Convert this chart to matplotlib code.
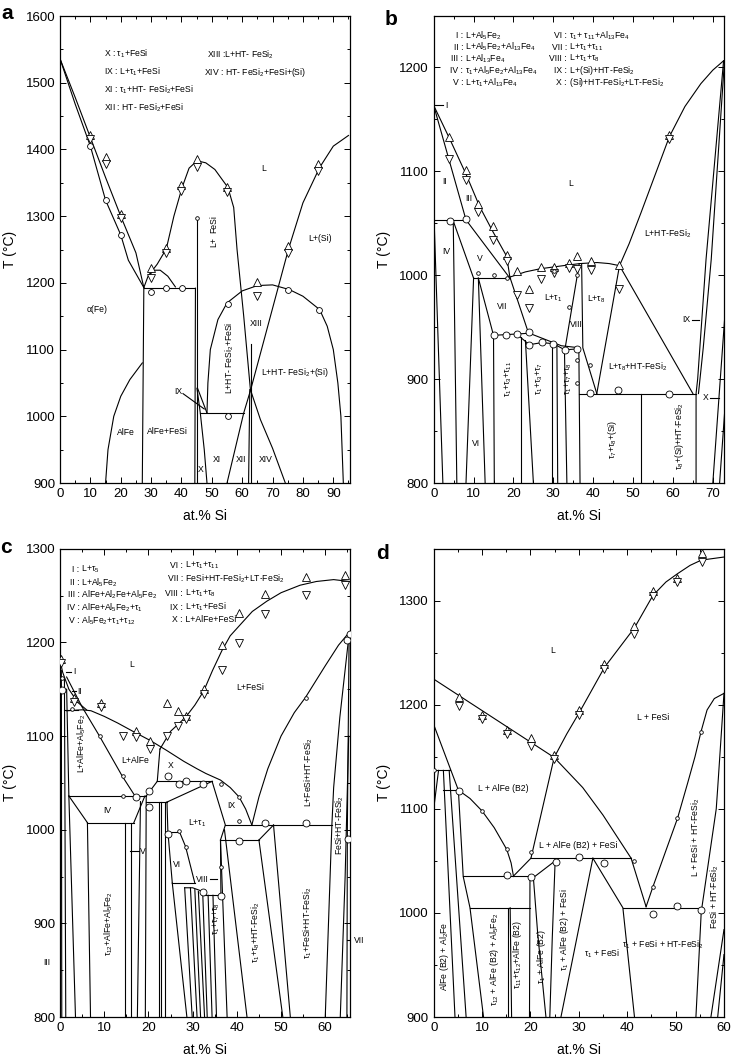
import matplotlib
matplotlib.use('Agg')
import matplotlib.pyplot as plt
from matplotlib.ticker import MultipleLocator

plt.rcParams['font.family'] = ['Liberation Sans', 'DejaVu Sans']
plt.rcParams['mathtext.fontset'] = 'custom'
plt.rcParams['mathtext.rm'] = 'Liberation Sans'
plt.rcParams['mathtext.it'] = 'Liberation Sans:italic'
plt.rcParams['mathtext.bf'] = 'Liberation Sans:bold'

# ---------------- panel a data ----------------
a_liq_fe = [(0, 1536), (5, 1478), (10, 1418), (15, 1358), (20, 1300), (25, 1245), (27.6, 1193)]
a_sol_fe = [(0, 1536), (5, 1468), (10, 1405), (15, 1324), (20, 1272), (22.5, 1234), (27.6, 1193)]
a_small_dome = [(27.6, 1193), (29, 1210), (31, 1219), (33, 1219), (35.5, 1210), (38, 1194)]
a_fesi_liq = [(29.3, 1212), (32, 1228), (35, 1251), (37.5, 1300), (40.2, 1343), (42.5, 1372),
              (45.1, 1383), (48, 1380), (51, 1370), (55.3, 1343), (57.2, 1313), (58.3, 1250),
              (60.5, 1150), (62.7, 1040), (66, 995), (70, 952), (74.2, 900)]
a_h1192 = [(27.6, 1192), (44.6, 1192)]
a_v27 = [(27.1, 900), (27.6, 1192)]
a_alfe = [(15, 900), (15.8, 950), (17.7, 1000), (20, 1030), (23, 1055), (27.1, 1080)]
a_v44 = [(44.4, 900), (44.6, 1192)]
a_v45 = [(45.1, 900), (45.1, 1298)]
a_x1 = [(45.1, 1042), (46.2, 1005), (47.5, 950), (48.4, 900)]
a_x2 = [(45.3, 1042), (48.4, 1005)]
a_h1005 = [(46.2, 1005), (60.5, 1005)]
a_big_dome = [(48.4, 1005), (48.7, 1050), (49.5, 1100), (52, 1145), (55, 1170), (60, 1188),
              (65, 1196), (70, 1197), (75.5, 1190), (80, 1180), (85.5, 1160), (88, 1135),
              (90, 1100), (91.5, 1050), (92.5, 1000), (93.3, 900)]
a_si_liq = [(55, 900), (60.5, 1005), (62.8, 1040), (75.2, 1250), (80, 1320), (85.5, 1373),
            (90, 1405), (95, 1421)]
a_v62a = [(62.1, 900), (62.5, 1040)]
a_v62b = [(62.9, 900), (62.9, 1108)]
a_ix_ptr = [(40.5, 1034), (47.5, 1011)]
a_lines = [a_liq_fe, a_sol_fe, a_small_dome, a_fesi_liq, a_h1192, a_v27, a_alfe, a_v44, a_v45,
           a_x1, a_x2, a_h1005, a_big_dome, a_si_liq, a_v62a, a_v62b, a_ix_ptr]

a_up = [(10, 1421), (15, 1388), (20, 1303), (30, 1222), (35, 1252), (40, 1346), (45, 1386),
        (55, 1344), (65, 1201), (75, 1256), (85, 1378)]
a_down = [(10, 1416), (15, 1378), (20, 1298), (30, 1208), (35, 1245), (40, 1337), (45, 1374),
          (55, 1336), (65, 1180), (75, 1245), (85, 1367)]
a_circ = [(10, 1405), (15, 1324), (20.2, 1272), (30.1, 1187), (35, 1192), (40.2, 1192),
          (55.3, 1169), (75.2, 1190), (85.3, 1160), (55.3, 1001)]
a_circ_small = [(45.1, 1298)]

a_texts = [
    (14.5, 1543, r'X : τ$_1$+FeSi', 0, 'left'),
    (14.5, 1516, r'IX : L+τ$_1$+FeSi', 0, 'left'),
    (14.5, 1489, r'XI : τ$_1$+HT- FeSi$_2$+FeSi', 0, 'left'),
    (14.5, 1462, r'XII : HT- FeSi$_2$+FeSi', 0, 'left'),
    (48.4, 1542, r'XIII :L+HT- FeSi$_2$', 0, 'left'),
    (47.3, 1516, r'XIV : HT- FeSi$_2$+FeSi+(Si)', 0, 'left'),
    (67, 1371, 'L', 0, 'center'),
    (85.6, 1267, 'L+(Si)', 0, 'center'),
    (50.6, 1288, 'FeSi', 90, 'center'),
    (50.6, 1261, 'L+', 90, 'center'),
    (12.3, 1160, 'α(Fe)', 0, 'center'),
    (21.6, 975, 'AlFe', 0, 'center'),
    (35.3, 977, 'AlFe+FeSi', 0, 'center'),
    (64.6, 1139, 'XIII', 0, 'center'),
    (56, 1087, r'L+HT- FeSi$_2$+FeSi', 90, 'center'),
    (77.5, 1065, r'L+HT- FeSi$_2$+(Si)', 0, 'center'),
    (39.1, 1037, 'IX', 0, 'center'),
    (51.7, 935, 'XI', 0, 'center'),
    (59.6, 935, 'XII', 0, 'center'),
    (67.6, 935, 'XIV', 0, 'center'),
    (46.4, 920, 'X', 0, 'center'),
]

# ---------------- panel b data ----------------
b_liq = [(0, 1163), (4, 1131), (8.1, 1097), (11.5, 1066), (14.8, 1042), (18.3, 1018), (19.1, 998)]
b_II = [(0, 1163), (8.1, 1053)]
b_h1053 = [(0, 1053), (8.1, 1053)]
b_V_right = [(8.1, 1053), (19.1, 997)]
b_V_left = [(4.9, 1052), (10, 997)]
b_h997 = [(10, 997), (19.1, 997)]
b_IV_left = [(0.1, 1053), (2.3, 800)]
b_IV_right = [(4.9, 1052), (5.8, 800)]
b_VI_a = [(10, 997), (8.1, 800)]
b_VI_b = [(11.2, 997), (12.9, 800)]
b_VII_left = [(11.2, 997), (15, 942)]
b_v15 = [(15, 942), (15.2, 800)]
b_VII_right = [(19.1, 998), (23.7, 945)]
b_h942 = [(15, 942), (24, 944), (28, 938), (32, 932), (36.6, 930)]
b_t1_liq = [(19.1, 998), (23, 1003), (26.7, 1006), (32.5, 1009), (36.7, 1011), (41, 1012),
            (44, 1011), (46.6, 1009)]
b_bigliq = [(46.6, 1009), (49, 1030), (52, 1060), (55.5, 1096), (59.1, 1133), (63, 1162),
            (67, 1184), (70, 1197), (72.7, 1206)]
b_step = [(21.8, 940), (24, 933), (27.1, 935), (30, 934), (32.9, 928), (36, 929)]
b_v21 = [(21.8, 940), (21.8, 800)]
b_v23 = [(23, 937), (25, 800)]
b_v29 = [(29.6, 934), (29.6, 800)]
b_v31 = [(30.9, 932), (31.1, 800)]
b_VIII_left = [(36.5, 1011), (32.8, 926), (33.4, 800)]
b_v36 = [(36.4, 929), (36.5, 886), (36.7, 800)]
b_Lt8_left = [(37.1, 1011), (37.4, 930), (40.9, 886)]
b_Lt8_right = [(46.6, 1009), (40.9, 886)]
b_big_tri = [(46.6, 1009), (65, 886)]
b_h886 = [(36.5, 886), (65.8, 886)]
b_v52 = [(52, 886), (52, 800)]
b_si1 = [(72.7, 1206), (68.3, 1015), (66.2, 900), (65.8, 886), (65.8, 800)]
b_si2 = [(72.9, 1205), (69.6, 1015), (67.6, 930), (66.4, 886)]
b_right3 = [(70, 800), (73, 960)]
b_right4 = [(71.7, 800), (73, 870)]
b_I_ptr = [(0.3, 1163), (2.3, 1163)]
b_IX_ptr = [(64.8, 957), (66.6, 957)]
b_X_ptr = [(69.4, 882), (71.6, 882)]
b_lines = [b_liq, b_II, b_h1053, b_V_right, b_V_left, b_h997, b_IV_left, b_IV_right, b_VI_a,
           b_VI_b, b_VII_left, b_v15, b_VII_right, b_h942, b_t1_liq, b_bigliq, b_step, b_v21,
           b_v23, b_v29, b_v31, b_VIII_left, b_v36, b_Lt8_left, b_Lt8_right, b_big_tri, b_h886,
           b_v52, b_si1, b_si2, b_right3, b_right4, b_I_ptr, b_IX_ptr, b_X_ptr]

b_up = [(3.9, 1133), (8.1, 1101), (11, 1068), (14.8, 1047), (18.3, 1019), (21, 1004), (24, 987),
        (26.8, 1008), (30.2, 1008), (34, 1012), (36, 1018), (39.4, 1013), (46.4, 1010),
        (59.1, 1135)]
b_down = [(3.9, 1112), (8.1, 1091), (11, 1061), (14.8, 1034), (18.3, 1013), (21, 981), (24, 968),
          (26.8, 996), (30.2, 1002), (34, 1007), (36, 1006), (39.4, 1005), (46.4, 987),
          (59.1, 1131)]
b_circ = [(4.1, 1052), (8.1, 1054), (15, 942.5), (18.1, 942.5), (21, 943.5), (24, 945),
          (24, 933), (27.1, 935.5), (30, 934), (32.9, 928), (35.9, 929), (39.2, 886.6),
          (46.2, 889), (59, 886)]
b_circ_small = [(11, 1002), (15, 1000), (18.3, 997), (34, 969.6), (35.9, 1000), (35.9, 918.5),
                (35.9, 896), (39.2, 913.7), (30.2, 1004)]

b_legend = [
    (7.4, 1230.4, 'I', r'L+Al$_5$Fe$_2$'),
    (7.4, 1219.2, 'II', r'L+Al$_5$Fe$_2$+Al$_{13}$Fe$_4$'),
    (7.4, 1208.0, 'III', r'L+Al$_{13}$Fe$_4$'),
    (7.4, 1196.2, 'IV', r'τ$_1$+Al$_5$Fe$_2$+Al$_{13}$Fe$_4$'),
    (7.4, 1184.7, 'V', r'L+τ$_1$+Al$_{13}$Fe$_4$'),
    (33.4, 1230.4, 'VI', r'τ$_1$+ τ$_{11}$+Al$_{13}$Fe$_4$'),
    (33.4, 1219.2, 'VII', r'L+τ$_1$+τ$_{11}$'),
    (33.4, 1208.0, 'VIII', r'L+τ$_1$+τ$_8$'),
    (33.4, 1196.2, 'IX', r'L+(Si)+HT-FeSi$_2$'),
    (33.4, 1184.7, 'X', r'(Si)+HT-FeSi$_2$+LT-FeSi$_2$'),
]
b_texts = [
    (34.4, 1088, 'L', 0, 'center'),
    (2.7, 1090, 'II', 0, 'center'),
    (8.9, 1074, 'III', 0, 'center'),
    (3.1, 1023, 'IV', 0, 'center'),
    (11.5, 1016, 'V', 0, 'center'),
    (58.7, 1040, r'L+HT-FeSi$_2$', 0, 'center'),
    (17.3, 970, 'VII', 0, 'center'),
    (29.9, 978, r'L+τ$_1$', 0, 'center'),
    (40.7, 977, r'L+τ$_8$', 0, 'center'),
    (35.7, 952, 'VIII', 0, 'center'),
    (51.2, 912, r'L+τ$_8$+HT-FeSi$_2$', 0, 'center'),
    (63.3, 957, 'IX', 0, 'center'),
    (68.3, 882, 'X', 0, 'center'),
    (10.6, 838, 'VI', 0, 'center'),
    (3.2, 1163, 'I', 0, 'center'),
    (18.6, 900, r'τ$_1$+τ$_3$+τ$_{11}$', 90, 'center'),
    (26.5, 900, r'τ$_1$+τ$_3$+τ$_7$', 90, 'center'),
    (33.8, 900, r'τ$_1$+τ$_7$+τ$_8$', 90, 'center'),
    (44.9, 842, r'τ$_7$+τ$_8$+(Si)', 90, 'center'),
    (61.6, 845, r'τ$_8$+(Si)+HT-FeSi$_2$', 90, 'center'),
]

# ---------------- panel c data ----------------
c_liq_fesi = [(22.6, 1086), (25, 1105), (28.4, 1120), (30.5, 1133), (32.5, 1148), (34.5, 1170),
              (36.6, 1191), (38.5, 1207), (40.8, 1219), (43.5, 1233), (46.8, 1244), (50, 1253),
              (54.3, 1261), (58, 1265), (61.9, 1267), (65.5, 1265)]
c_liq_alfe = [(1.5, 1127), (5, 1128), (7, 1127), (10, 1121), (13, 1114), (16.5, 1105),
              (20.5, 1095), (24, 1085), (28, 1073), (31, 1065), (33, 1060), (36.3, 1053),
              (38.5, 1045), (40.5, 1035), (42, 1022), (43.4, 1005)]
c_dome_right = [(43.4, 1005), (45, 1035), (47, 1065), (50, 1100), (53, 1125), (55.5, 1141),
                (60, 1175), (63, 1197), (65.3, 1210)]
c_right_steep = [(65.4, 1209), (63.3, 1120), (61.9, 1045), (61.5, 1005), (60, 800)]
c_right2 = [(65.4, 1209), (65, 1000), (64.9, 800)]
c_right3 = [(63.4, 800), (64.5, 950), (65.3, 1100)]
c_left_liq = [(0, 1181), (0.6, 1168), (2, 1150), (4, 1136), (6, 1128)]
c_alfe_line = [(1.5, 1163), (5, 1131), (8.8, 1101), (14.1, 1057), (17.1, 1035)]
c_h1128 = [(0.8, 1128), (4, 1128)]
c_v0 = [(0.3, 1170), (0.4, 800)]
c_v1 = [(1, 1162), (1.3, 800)]
c_v2 = [(1.5, 1150), (2, 1036)]
c_v3 = [(2, 1036), (3.5, 800)]
c_h1036 = [(2, 1036), (19.5, 1036)]
c_IV_left = [(2, 1036), (6.2, 1007.5)]
c_h1007 = [(6.2, 1007.5), (16.7, 1007.5)]
c_IV_right = [(16.7, 1007.5), (19.2, 1036)]
c_v6 = [(6.2, 1007.5), (6.9, 800)]
c_v14 = [(14.6, 1007.5), (14.6, 800)]
c_v16 = [(16.1, 1007.5), (16.1, 800)]
c_v17 = [(18.2, 1030), (17.5, 800)]
c_v19 = [(19.5, 1036), (19.3, 800)]
c_toX = [(19.5, 1036), (22, 1051.6)]
c_h1051 = [(22, 1051.6), (34.4, 1051.6)]
c_h1029 = [(19.5, 1029.5), (24.2, 1029.5)]
c_to1051b = [(24.2, 1029.5), (34.4, 1051.6)]
c_X_left = [(22.6, 1086), (22, 1051.6)]
c_v22 = [(22.3, 1029.5), (22.3, 800)]
c_v23 = [(22.9, 1029.5), (22.9, 800)]
c_v24 = [(23.8, 1029.5), (23.8, 800)]
c_t1_left = [(24.2, 1029.5), (24.4, 998)]
c_h998 = [(24.2, 998), (27, 998)]
c_VI_left = [(24.4, 998), (25.4, 943)]
c_t1_right = [(27, 998), (28.4, 982), (30.5, 943)]
c_h943 = [(25.4, 943), (30.5, 943)]
c_VIII = [(28.2, 938), (30, 938), (32.3, 934)]
c_h930 = [(32.3, 930), (36.4, 930)]
c_Lt1_right = [(34.4, 1051.6), (37.4, 1005), (36.3, 989), (36.4, 930)]
c_v37 = [(36.3, 989), (37.8, 800)]
c_v42 = [(37.2, 1000), (42.3, 800)]
c_v50 = [(45, 989), (50.4, 800)]
c_v52 = [(48.3, 1005), (52.1, 800)]
c_h989 = [(36.3, 989), (45, 989)]
c_h1005 = [(37.4, 1005), (61.5, 1005)]
c_diag = [(45, 989), (48.3, 1005)]
c_f1 = [(25.4, 943), (28.7, 800)]
c_f2 = [(28.2, 938), (29.9, 800)]
c_f3 = [(29.5, 938), (31, 800)]
c_f4 = [(30.5, 936), (31.8, 800)]
c_f5 = [(31.3, 934), (32.7, 800)]
c_f6 = [(32.3, 930), (33.3, 800)]
c_f7 = [(33.5, 930), (34.4, 800)]
c_f8 = [(34.6, 930), (35.4, 800)]
c_V_ptr = [(15.8, 977), (17.8, 977)]
c_VIII_ptr = [(34, 947), (35.5, 947)]
c_VII_ptr = [(65, 882), (66.4, 882)]
c_I_ptr = [(1.3, 1168.6), (2.4, 1168.6)]
c_II_ptr = [(2.6, 1148), (3.6, 1148)]
c_lines = [c_liq_fesi, c_liq_alfe, c_dome_right, c_right_steep, c_right2, c_right3, c_left_liq,
           c_alfe_line, c_h1128, c_v0, c_v1, c_v2, c_v3, c_h1036, c_IV_left, c_h1007, c_IV_right,
           c_v6, c_v14, c_v16, c_v17, c_v19, c_toX, c_h1051, c_h1029, c_to1051b, c_X_left, c_v22,
           c_v23, c_v24, c_t1_left, c_h998, c_VI_left, c_t1_right, c_h943, c_VIII, c_h930,
           c_Lt1_right, c_v37, c_v42, c_v50, c_v52, c_h989, c_h1005, c_diag, c_f1, c_f2, c_f3,
           c_f4, c_f5, c_f6, c_f7, c_f8, c_V_ptr, c_VIII_ptr, c_VII_ptr, c_I_ptr, c_II_ptr]

c_up = [(0.15, 1182), (3.2, 1141), (9.2, 1135.5), (17.1, 1105), (20.3, 1094.7), (24.2, 1135.5),
        (26.8, 1126.6), (28.4, 1121), (32.5, 1149.7), (36.6, 1197.7), (40.6, 1231.4),
        (46.4, 1251.7), (55.7, 1269.4), (64.5, 1271.6)]
c_down = [(0.15, 1178), (3.2, 1136), (9.2, 1131), (14.3, 1100), (17.1, 1099), (20.3, 1085.8),
          (24.2, 1100), (26.8, 1110.7), (28.4, 1117.8), (32.5, 1144.4), (36.6, 1171),
          (40.6, 1199.5), (46.4, 1230.4), (55.7, 1251), (64.5, 1261)]
c_circ = [(0.4, 1149), (65, 1203), (65.5, 1209), (17.1, 1035), (20.1, 1041), (20.1, 1024),
          (24.4, 1057), (27, 1049), (28.4, 1051.6), (32.3, 1049), (40.4, 987.5), (46.4, 1007),
          (55.7, 1007), (65.2, 990.4), (24.4, 995.7), (32.3, 934), (36.4, 929)]
c_circ_small = [(0.4, 1162), (2.8, 1128.4), (9, 1100), (14.3, 1057.4), (55.7, 1141),
                (14.3, 1036.3), (36.4, 1049), (40.4, 1035), (40.4, 1009), (27, 998.2),
                (28.4, 982), (36.4, 960)]

c_legend = [
    (4.4, 1277.6, 'I', r'L+τ$_5$'),
    (4.4, 1264.1, 'II', r'L+Al$_5$Fe$_2$'),
    (4.4, 1251.0, 'III', r'AlFe+Al$_2$Fe+Al$_5$Fe$_2$'),
    (4.4, 1236.8, 'IV', r'AlFe+Al$_5$Fe$_2$+τ$_1$'),
    (4.4, 1223.3, 'V', r'Al$_5$Fe$_2$+τ$_1$+τ$_{12}$'),
    (27.8, 1282.2, 'VI', r'L+τ$_1$+τ$_{11}$'),
    (27.8, 1268.0, 'VII', r'FeSi+HT-FeSi$_2$+LT-FeSi$_2$'),
    (27.8, 1252.0, 'VIII', r'L+τ$_1$+τ$_8$'),
    (27.8, 1237.5, 'IX', r'L+τ$_1$+FeSi'),
    (27.8, 1224.3, 'X', r'L+AlFe+FeSi'),
]
c_texts = [
    (16.3, 1176, 'L', 0, 'center'),
    (43, 1151.5, 'L+FeSi', 0, 'center'),
    (17.1, 1073.4, 'L+AlFe', 0, 'center'),
    (25, 1069, 'X', 0, 'center'),
    (5, 1092, r'L+AlFe+Al$_5$Fe$_2$', 90, 'center'),
    (56.3, 1062, r'L+FeSi+HT-FeSi$_2$', 90, 'center'),
    (10.7, 1020.6, 'IV', 0, 'center'),
    (38.7, 1025.6, 'IX', 0, 'center'),
    (31, 1006.4, r'L+τ$_1$', 0, 'center'),
    (26.5, 962.6, 'VI', 0, 'center'),
    (18.7, 977, 'V', 0, 'center'),
    (32.1, 947.3, 'VIII', 0, 'center'),
    (-2.9, 857.7, 'III', 0, 'center'),
    (67.6, 882, 'VII', 0, 'center'),
    (3.2, 1168.6, 'I', 0, 'center'),
    (4.5, 1148, 'II', 0, 'center'),
    (11, 900, r'τ$_{12}$+AlFe+Al$_5$Fe$_2$', 90, 'center'),
    (35.3, 905, r'τ$_1$+τ$_7$+τ$_8$', 90, 'center'),
    (44.3, 890, r'τ$_1$+τ$_8$+HT-FeSi$_2$', 90, 'center'),
    (56, 900, r'τ$_1$+FeSi+HT-FeSi$_2$', 90, 'center'),
    (63.3, 1005, r'FeSi+HT-FeSi$_2$', 90, 'center'),
]

# ---------------- panel d data ----------------
d_liq_alfe = [(0, 1224.7), (24.9, 1149.4), (30.8, 1120.5), (35, 1094), (40.8, 1052.6)]
d_liq_fesi = [(20.1, 1052.6), (24.9, 1149.4), (27.5, 1172), (30.1, 1192.6), (35.3, 1236),
              (41.5, 1274), (45.3, 1305), (48, 1318), (50.4, 1326), (53, 1334), (55.3, 1339),
              (60, 1342)]
d_right_dome = [(43.9, 1006), (45.3, 1025), (48, 1060), (50.4, 1091), (52.5, 1125), (54, 1150),
                (55.3, 1175), (56.5, 1195), (58, 1206), (60, 1211)]
d_right_steep = [(60, 1211), (58.7, 1120), (58.4, 1100), (55.3, 1001), (54.2, 900)]
d_right2 = [(60, 984), (57.3, 900)]
d_right3 = [(60, 960), (58.7, 900)]
d_left1 = [(0, 1181), (5.1, 1118)]
d_curve = [(5.1, 1118), (7.5, 1110), (10, 1098), (12.5, 1082), (15.1, 1061), (16, 1048),
           (16.5, 1035)]
d_h1035 = [(6, 1035.5), (20.6, 1035.5)]
d_up1 = [(16.5, 1035.5), (20.1, 1052.6)]
d_h1052 = [(20.1, 1052.6), (40.8, 1052.6)]
d_up2 = [(20.6, 1034), (25.1, 1050)]
d_V = [(40.8, 1052.6), (43.9, 1006)]
d_h1005L = [(7.5, 1005), (20, 1005)]
d_h1005R = [(39.1, 1005), (55.3, 1005)]
d_t1_left = [(32.9, 1052.6), (26.3, 900)]
d_t1_right = [(32.9, 1052.6), (39.1, 1005), (41.5, 900)]
d_v20 = [(20.6, 1034), (21.5, 980), (23.2, 900)]
d_v19 = [(19.9, 1035), (19.8, 900)]
d_v25 = [(25.1, 1050), (24.5, 975), (24.0, 900)]
d_hs1 = [(0, 1137), (3.4, 1137)]
d_hs2 = [(2, 1118), (5.1, 1118)]
d_vl1 = [(0, 1100), (1, 1137)]
d_vl2 = [(2, 1137), (4.4, 900)]
d_vl3 = [(3.2, 1137), (6.7, 900)]
d_vl4 = [(5.1, 1118), (6.1, 1035), (7.5, 1005), (10.3, 900)]
d_v15a = [(15.3, 1005), (15.3, 900)]
d_v15b = [(15.8, 1005), (16.1, 900)]
d_lines = [d_liq_alfe, d_liq_fesi, d_right_dome, d_right_steep, d_right2, d_right3, d_left1,
           d_curve, d_h1035, d_up1, d_h1052, d_up2, d_V, d_h1005L, d_h1005R, d_t1_left,
           d_t1_right, d_v20, d_v19, d_v25, d_hs1, d_hs2, d_vl1, d_vl2, d_vl3, d_vl4, d_v15a,
           d_v15b]

d_up = [(5.2, 1207.7), (10, 1190), (15.1, 1175.6), (20.1, 1168), (24.9, 1151.6), (30.1, 1194.9),
        (35.3, 1239), (41.5, 1276), (45.3, 1309), (50.2, 1321.8), (55.4, 1345.5)]
d_down = [(5.2, 1199), (10, 1186), (15.1, 1171.8), (20.1, 1160.6), (24.9, 1148.4),
          (30.1, 1190.4), (35.3, 1234), (41.5, 1268), (45.3, 1304.8), (50.2, 1318.3),
          (55.4, 1336.9)]
d_circ = [(5.2, 1117.6), (15.1, 1036.6), (20.1, 1034.4), (25.2, 1049.4), (30.1, 1053.6),
          (35.3, 1047.8), (45.3, 999.2), (50.3, 1006.9), (55.3, 1002.4)]
d_circ_small = [(10, 1098), (15.1, 1061.3), (20.1, 1059), (41.5, 1050.4), (45.3, 1024.8),
                (50.3, 1091), (55.3, 1174), (0, 1137)]
d_texts = [
    (24.6, 1252, 'L', 0, 'center'),
    (45.3, 1188, 'L + FeSi', 0, 'center'),
    (14.3, 1120, 'L + AlFe (B2)', 0, 'center'),
    (29.8, 1064.5, 'L + AlFe (B2) + FeSi', 0, 'center'),
    (54.2, 1073, r'L + FeSi + HT-FeSi$_2$', 90, 'center'),
    (58, 1016, r'FeSi + HT-FeSi$_2$', 90, 'center'),
    (47.3, 969.4, r'τ$_1$ + FeSi + HT-FeSi$_2$', 0, 'center'),
    (34.9, 961, r'τ$_1$ + FeSi', 0, 'center'),
    (27.0, 984, r'τ$_1$ + AlFe (B2) + FeSi', 90, 'center'),
    (22.2, 958, r'τ$_1$ + AlFe (B2)', 90, 'center'),
    (17.4, 960, r'τ$_{11}$+τ$_{12}$+AlFe (B2)', 90, 'center'),
    (12.6, 955, r'τ$_{12}$ + AlFe (B2) + Al$_5$Fe$_2$', 90, 'center'),
    (2.2, 958, r'AlFe (B2) + Al$_2$Fe', 90, 'center'),
]

FS_T = 6.2
FS_TICK = 9.5


def setup(ax, xlim, ylim, xmaj, ymaj):
    ax.set_xlim(*xlim)
    ax.set_ylim(*ylim)
    ax.xaxis.set_major_locator(MultipleLocator(xmaj))
    ax.xaxis.set_minor_locator(MultipleLocator(5))
    ax.yaxis.set_major_locator(MultipleLocator(ymaj))
    ax.yaxis.set_minor_locator(MultipleLocator(50))
    ax.tick_params(which='both', direction='in', top=True, right=True, width=0.7)
    ax.tick_params(which='major', length=4, labelsize=FS_TICK)
    ax.tick_params(which='minor', length=2.5)
    for s in ax.spines.values():
        s.set_linewidth(0.9)
    ax.set_xlabel('at.% Si', fontsize=10)
    ax.set_ylabel('T (°C)', fontsize=10)
    ax.yaxis.set_label_coords(-0.148, 0.5)
    ax.xaxis.set_label_coords(0.5, -0.055)


def draw(ax, lines, up, down, circ, circ_small, texts, ms_circ=5):
    for ln in lines:
        xs = [p[0] for p in ln]
        ts = [p[1] for p in ln]
        ax.plot(xs, ts, color='black', lw=0.8, solid_joinstyle='round')
    for pts, m, ms in ((up, '^', 5.2), (down, 'v', 5.2), (circ, 'o', ms_circ), (circ_small, 'o', 2.6)):
        if pts:
            ax.plot([p[0] for p in pts], [p[1] for p in pts], ls='none', marker=m, ms=ms,
                    mfc='white', mec='black', mew=0.6, zorder=5)
    for x, t, s, rot, ha in texts:
        ax.text(x, t, s, rotation=rot, ha=ha, va='center', fontsize=FS_T, clip_on=False, zorder=6)


def legend(ax, entries):
    for x, t, num, desc in entries:
        ax.text(x, t, num + ' :', ha='right', va='center', fontsize=FS_T)
        ax.text(x, t, ' ' + desc, ha='left', va='center', fontsize=FS_T)


fig = plt.figure(figsize=(7.31, 10.56), dpi=100)
ax_a = fig.add_axes([0.0821, 0.5426, 0.3967, 0.4422])
ax_b = fig.add_axes([0.5933, 0.5426, 0.3971, 0.4422])
ax_c = fig.add_axes([0.0821, 0.0369, 0.3967, 0.4435])
ax_d = fig.add_axes([0.5933, 0.0369, 0.3971, 0.4435])

setup(ax_a, (0, 95.5), (900, 1600), 10, 100)
draw(ax_a, a_lines, a_up, a_down, a_circ, a_circ_small, a_texts, ms_circ=4.2)

setup(ax_b, (0, 72.8), (800, 1249), 10, 100)
draw(ax_b, b_lines, b_up, b_down, b_circ, b_circ_small, b_texts)
legend(ax_b, b_legend)

setup(ax_c, (0, 65.6), (800, 1300), 10, 100)
draw(ax_c, c_lines, c_up, c_down, c_circ, c_circ_small, c_texts)
legend(ax_c, c_legend)

setup(ax_d, (0, 60), (900, 1350), 10, 100)
draw(ax_d, d_lines, d_up, d_down, d_circ, d_circ_small, d_texts)

for lab, x, y in (('a', 0.010, 0.987), ('b', 0.535, 0.982), ('c', 0.008, 0.482), ('d', 0.523, 0.476)):
    fig.text(x, y, lab, fontsize=15, fontweight='bold', ha='center', va='center')

fig.savefig('out.png', dpi=100)
